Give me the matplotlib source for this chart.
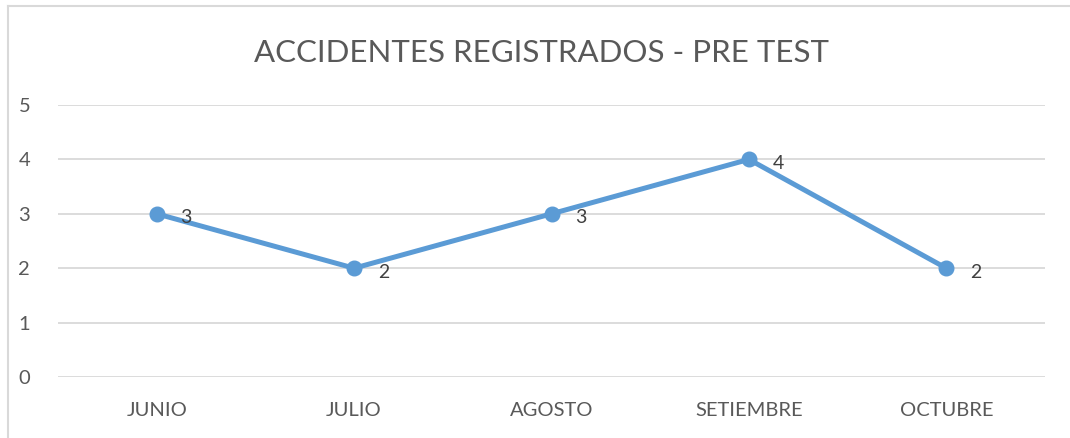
import matplotlib
matplotlib.use("Agg")
import matplotlib.pyplot as plt
from matplotlib.lines import Line2D

# Data
months = ["JUNIO", "JULIO", "AGOSTO", "SETIEMBRE", "OCTUBRE"]
accidents = [3, 2, 3, 4, 2]
y_ticks = [0, 1, 2, 3, 4, 5]

plt.rcParams['font.family'] = ['Lato', 'DejaVu Sans']

fig = plt.figure(figsize=(10.7, 4.38), dpi=100)
W, H = 1070, 438
ax = fig.add_axes([58 / W, (H - 377) / H, (1045 - 58) / W, (377 - 105) / H])

x = list(range(len(months)))
ax.plot(x, accidents, color='#5B9BD5', linewidth=3.6, marker='o',
        markersize=10.5, solid_capstyle='round', zorder=3, clip_on=False)

for xi, yi in zip(x, accidents):
    ax.annotate(str(yi), (xi, yi), xytext=(17, -3), textcoords='offset points',
                ha='left', va='center', fontsize=14, color='#404040')

ax.set_xlim(-0.5, len(months) - 0.5)
ax.set_ylim(0, 5)
ax.set_yticks(y_ticks)
ax.set_xticks(x)
ax.set_xticklabels(months)
ax.grid(axis='y', color='#D9D9D9', linewidth=1.3)
ax.set_axisbelow(True)
for s in ax.spines.values():
    s.set_visible(False)
ax.tick_params(length=0, labelsize=14.5, labelcolor='#595959')
ax.tick_params(axis='y', pad=20)
ax.tick_params(axis='x', pad=18)

fig.text(541 / W, 1 - 53 / H, "ACCIDENTES REGISTRADOS - PRE TEST", ha='center',
         va='center', fontsize=22.5, color='#595959')

# chart border (partly cut off in the original)
fig.add_artist(Line2D([8 / W, 8 / W], [0, 1 - 6 / H], transform=fig.transFigure,
                      color='#D9D9D9', linewidth=1.5))
fig.add_artist(Line2D([8 / W, 1], [1 - 6 / H, 1 - 6 / H], transform=fig.transFigure,
                      color='#D9D9D9', linewidth=1.5))

fig.savefig("out.png", dpi=100, facecolor='white')
